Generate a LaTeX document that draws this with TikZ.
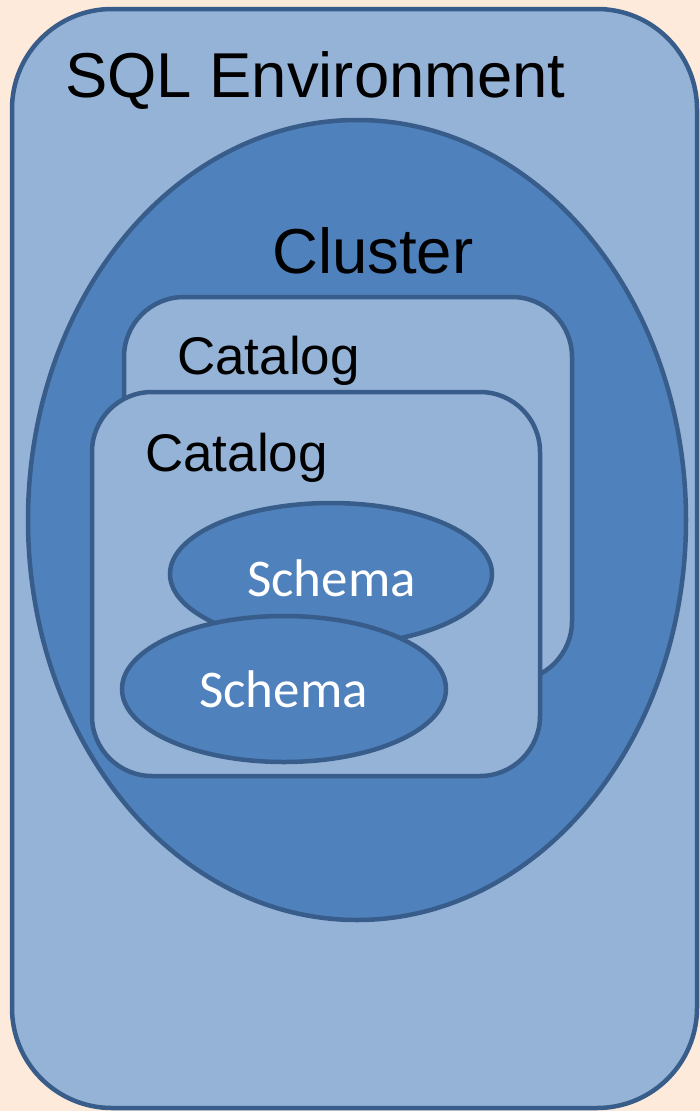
\documentclass[tikz,border=0pt]{standalone}
\usepackage{fontspec}
\setmainfont{Liberation Sans}
\newfontfamily\schemafont{Carlito}
\definecolor{bgpeach}{HTML}{FDEADA}
\definecolor{lightblue}{HTML}{95B3D7}
\definecolor{midblue}{HTML}{4F81BD}
\definecolor{edgeblue}{HTML}{385D8A}
\begin{document}
\begin{tikzpicture}[x=1pt,y=-1pt,
  shapeline/.style={draw=edgeblue,line width=4.5pt},
  lightfill/.style={shapeline,fill=lightblue},
  midfill/.style={shapeline,fill=midblue},
  lbl/.style={inner sep=0pt,anchor=base west,text=black},
  schemalbl/.style={inner sep=0pt,anchor=base west,text=white,font=\schemafont\fontsize{53}{64}\selectfont}]
\fill[bgpeach] (0,0) rectangle (700,1111);
\useasboundingbox (0,0) rectangle (700,1111);
% SQL environment
\draw[lightfill,rounded corners=100pt] (12,9) rectangle (697,1108);
\node[lbl,font=\fontsize{63.4}{76}\selectfont] (env) at (65,97) {SQL Environment};
% cluster
\draw[midfill] (357,520) ellipse [x radius=329, y radius=400];
\node[lbl,font=\fontsize{63.5}{76}\selectfont] (cluster) at (272,273) {Cluster};
% back catalog
\draw[lightfill,rounded corners=60pt] (124,297) rectangle (572,681);
\node[lbl,font=\fontsize{53}{64}\selectfont] (cat1) at (177,374) {Catalog};
% front catalog
\draw[lightfill,rounded corners=60pt] (92,392) rectangle (540,776);
\node[lbl,font=\fontsize{53}{64}\selectfont] (cat2) at (145,471) {Catalog};
% schemas
\draw[midfill] (331,574) ellipse [x radius=161, y radius=71];
\node[schemalbl] (sch1) at (247,596) {Schema};
\draw[midfill] (284,689) ellipse [x radius=162, y radius=73];
\node[schemalbl] (sch2) at (199,707) {Schema};
\end{tikzpicture}
\end{document}
